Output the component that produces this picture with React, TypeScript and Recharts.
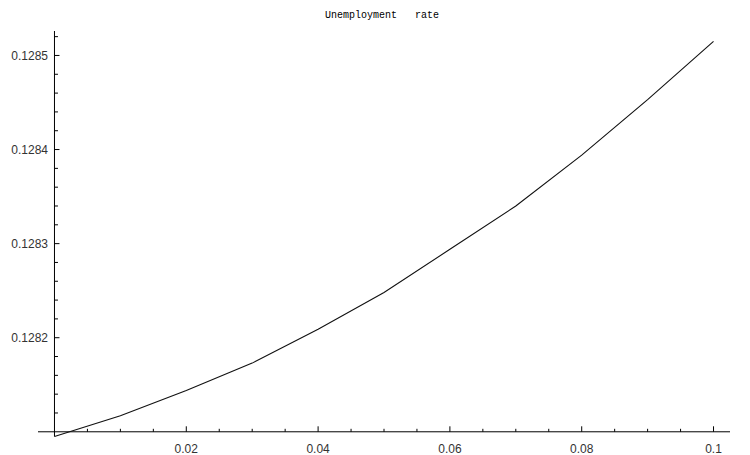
import React from 'react';
import { LineChart, Line, XAxis, YAxis, ReferenceLine } from 'recharts';

// values
const shockLevels = [0, 0.01, 0.02, 0.03, 0.04, 0.05, 0.06, 0.07, 0.08, 0.09, 0.1];
const unemploymentRate = [
  0.128095, 0.128117, 0.128144, 0.128173, 0.128209, 0.128248, 0.128294, 0.12834, 0.128394, 0.128453,
  0.128515,
];

const xTickLabels = [0.02, 0.04, 0.06, 0.08, 0.1];
const yTickLabels = [0.1282, 0.1283, 0.1284, 0.1285];
const xMinorTicks = [0.005, 0.01, 0.015, 0.025, 0.03, 0.035, 0.045, 0.05, 0.055, 0.065, 0.07, 0.075, 0.085, 0.09, 0.095];
const yMinorTicks = [
  0.12812, 0.12814, 0.12816, 0.12818, 0.12822, 0.12824, 0.12826, 0.12828, 0.12832, 0.12834, 0.12836,
  0.12838, 0.12842, 0.12844, 0.12846, 0.12848, 0.12852,
];

const X_DOMAIN: [number, number] = [-0.0025, 0.1025];
const Y_DOMAIN: [number, number] = [0.128095, 0.128526];
const AXIS_X = 0; // y-axis sits at x = 0
const AXIS_Y = 0.1281; // x-axis sits at y = 0.1281

// tick lengths converted from pixels into data units (px per unit on each axis)
const X_PX = 6590;
const Y_PX = 942000;
const xTickLen = (px: number) => px / Y_PX; // vertical ticks on the x-axis
const yTickLen = (px: number) => px / X_PX; // horizontal ticks on the y-axis

const data = shockLevels.map((x, i) => ({ x, rate: unemploymentRate[i] }));

const labelStyle = { fill: '#333', fontSize: 12, fontFamily: 'Liberation Sans, Arial, sans-serif' };

export default function App() {
  return (
    <div style={{ position: 'relative', width: 742, height: 447 }}>
      <div
        style={{
          position: 'absolute',
          left: 3,
          top: 2,
          width: 742,
          textAlign: 'center',
          fontFamily: 'Liberation Mono, monospace',
          fontSize: 10,
          lineHeight: '12px',
          color: '#000',
          whiteSpace: 'pre',
        }}
      >
        {'Unemployment   rate'}
      </div>
      <LineChart width={742} height={447} data={data} margin={{ top: 23, right: 20, bottom: 0, left: 0 }}>
        <XAxis
          dataKey="x"
          type="number"
          domain={X_DOMAIN}
          ticks={xTickLabels}
          axisLine={false}
          tickLine={false}
          tickSize={0}
          tickMargin={8}
          height={18.5}
          tick={labelStyle}
          tickFormatter={(v: number) => String(v)}
        />
        <YAxis
          type="number"
          domain={Y_DOMAIN}
          ticks={yTickLabels}
          axisLine={false}
          tickLine={false}
          tickSize={0}
          tickMargin={0}
          width={30}
          tick={{ ...labelStyle, dx: 10 }}
          tickFormatter={(v: number) => String(v)}
        />
        <ReferenceLine y={AXIS_Y} stroke="#000" strokeWidth={1} />
        <ReferenceLine x={AXIS_X} stroke="#000" strokeWidth={1} />
        {xTickLabels.map((t) => (
          <ReferenceLine
            key={`xM${t}`}
            segment={[{ x: t, y: AXIS_Y }, { x: t, y: AXIS_Y + xTickLen(5.5) }]}
            stroke="#000"
          />
        ))}
        {xMinorTicks.map((t) => (
          <ReferenceLine
            key={`xm${t}`}
            segment={[{ x: t, y: AXIS_Y }, { x: t, y: AXIS_Y + xTickLen(3) }]}
            stroke="#000"
          />
        ))}
        {yTickLabels.map((t) => (
          <ReferenceLine
            key={`yM${t}`}
            segment={[{ x: AXIS_X, y: t }, { x: AXIS_X + yTickLen(5), y: t }]}
            stroke="#000"
          />
        ))}
        {yMinorTicks.map((t) => (
          <ReferenceLine
            key={`ym${t}`}
            segment={[{ x: AXIS_X, y: t }, { x: AXIS_X + yTickLen(3.5), y: t }]}
            stroke="#000"
          />
        ))}
        <Line
          type="linear"
          dataKey="rate"
          stroke="#111"
          strokeWidth={1.1}
          dot={false}
          isAnimationActive={false}
        />
      </LineChart>
    </div>
  );
}
